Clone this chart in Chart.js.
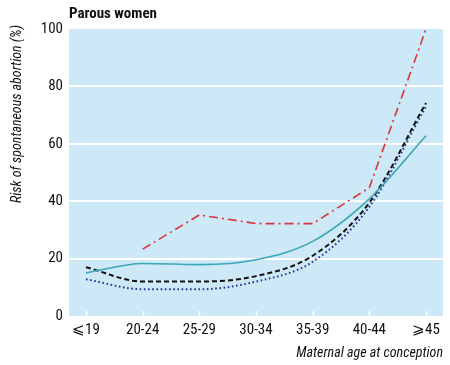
<!DOCTYPE html>
<html>
<head>
<meta charset="utf-8">
<script src="https://cdn.jsdelivr.net/npm/chart.js@4.4.1/dist/chart.umd.min.js"></script>
<style>
html,body{margin:0;padding:0;background:#fff;}
#wrap{width:450px;height:365px;position:relative;}
</style>
</head>
<body>
<div id="wrap"><canvas id="c" width="450" height="365"></canvas></div>
<script>
const categories = ["\u2A7D19", "20-24", "25-29", "30-34", "35-39", "40-44", "\u2A7E45"];
const seriesTeal  = [15.0, 18.3, 17.9, 19.6, 26.0, 40.8, 62.8];
const seriesBlack = [17.0, 12.0, 12.0, 13.9, 21.0, 39.5, 74.2];
const seriesBlue  = [12.8, 9.3, 9.3, 12.0, 18.9, 38.0, 73.0];
const seriesRed   = [null, 23.3, 35.2, 32.2, 32.2, 44.7, 100];
const yTicks = [0, 20, 40, 60, 80, 100];

const FONT = "'Roboto Condensed', 'Liberation Sans', Arial, sans-serif";

function pts(arr){ return arr.map((v,i)=>({x:i, y:v})); }

const bgPlugin = {
  id: 'bg',
  beforeDraw(chart){
    const {ctx, chartArea:a} = chart;
    ctx.save();
    ctx.fillStyle = '#cde8f7';
    ctx.fillRect(a.left, a.top, a.right-a.left, a.bottom-a.top);
    ctx.restore();
  },
  beforeDatasetsDraw(chart){
    const {ctx, chartArea:a, scales} = chart;
    ctx.save();
    ctx.strokeStyle = '#ffffff';
    ctx.lineWidth = 1.5;
    categories.forEach((c,i)=>{
      const x = Math.round(scales.x.getPixelForValue(i)) + 0.5;
      ctx.beginPath();
      ctx.moveTo(x, a.bottom);
      ctx.lineTo(x, a.bottom - 5);
      ctx.stroke();
    });
    ctx.restore();
  },
  afterDraw(chart){
    const {ctx, chartArea:a} = chart;
    ctx.save();
    ctx.fillStyle = '#111';
    ctx.font = "bold 15px " + FONT;
    ctx.textAlign = 'left';
    ctx.textBaseline = 'middle';
    ctx.fillText('Parous women', a.left, 14);
    ctx.translate(17, 114);
    ctx.rotate(-Math.PI/2);
    ctx.font = "italic 14px " + FONT;
    ctx.textAlign = 'center';
    ctx.fillText('Risk of spontaneous abortion (%)', 0, 0);
    ctx.restore();
  }
};

new Chart(document.getElementById('c'), {
  type: 'line',
  data: {
    datasets: [
      { label:'teal', data: pts(seriesTeal), borderColor:'#3aa6b6', borderWidth:1.6, pointRadius:0, cubicInterpolationMode:'monotone', fill:false },
      { label:'black', data: pts(seriesBlack), borderColor:'#111111', borderWidth:2, borderDash:[5,3], pointRadius:0, cubicInterpolationMode:'monotone', fill:false },
      { label:'blue', data: pts(seriesBlue), borderColor:'#26349a', borderWidth:2, borderDash:[1.6,2.6], pointRadius:0, cubicInterpolationMode:'monotone', fill:false },
      { label:'red', data: pts(seriesRed), borderColor:'#d9363c', borderWidth:1.6, borderDash:[9,4,2,4], pointRadius:0, tension:0, fill:false, spanGaps:false }
    ]
  },
  options: {
    responsive: false,
    animation: false,
    events: [],
    layout: { padding: { left: 0, right: 7, top: 29, bottom: 0 } },
    plugins: { legend:{display:false}, tooltip:{enabled:false}, title:{display:false} },
    scales: {
      x: {
        type: 'linear',
        min: -0.3, max: 6.3,
        afterBuildTicks(s){ s.ticks = categories.map((c,i)=>({value:i})); },
        afterFit(s){ s.height = 49; },
        grid: { display:false, drawTicks:false },
        border: { display:false },
        ticks: {
          autoSkip:false, maxRotation:0, padding:5,
          color:'#111', font:{ family: FONT, size:15 },
          callback:(v)=>categories[v]
        },
        title: { display:true, text:'Maternal age at conception', align:'end', color:'#111', font:{ family: FONT, size:14, style:'italic' }, padding:{top:1, bottom:3} }
      },
      y: {
        min: 0, max: 100,
        afterBuildTicks(s){ s.ticks = yTicks.map(v=>({value:v})); },
        afterFit(s){ s.width = 69; },
        grid: { color:(ctx)=> (ctx.tick && (ctx.tick.value===0 || ctx.tick.value===100)) ? 'rgba(0,0,0,0)' : '#ffffff', lineWidth:2, drawTicks:false },
        border: { display:false },
        ticks: { padding:6, color:'#111', font:{ family: FONT, size:15 } }
      }
    }
  },
  plugins: [bgPlugin]
});
</script>
</body>
</html>
